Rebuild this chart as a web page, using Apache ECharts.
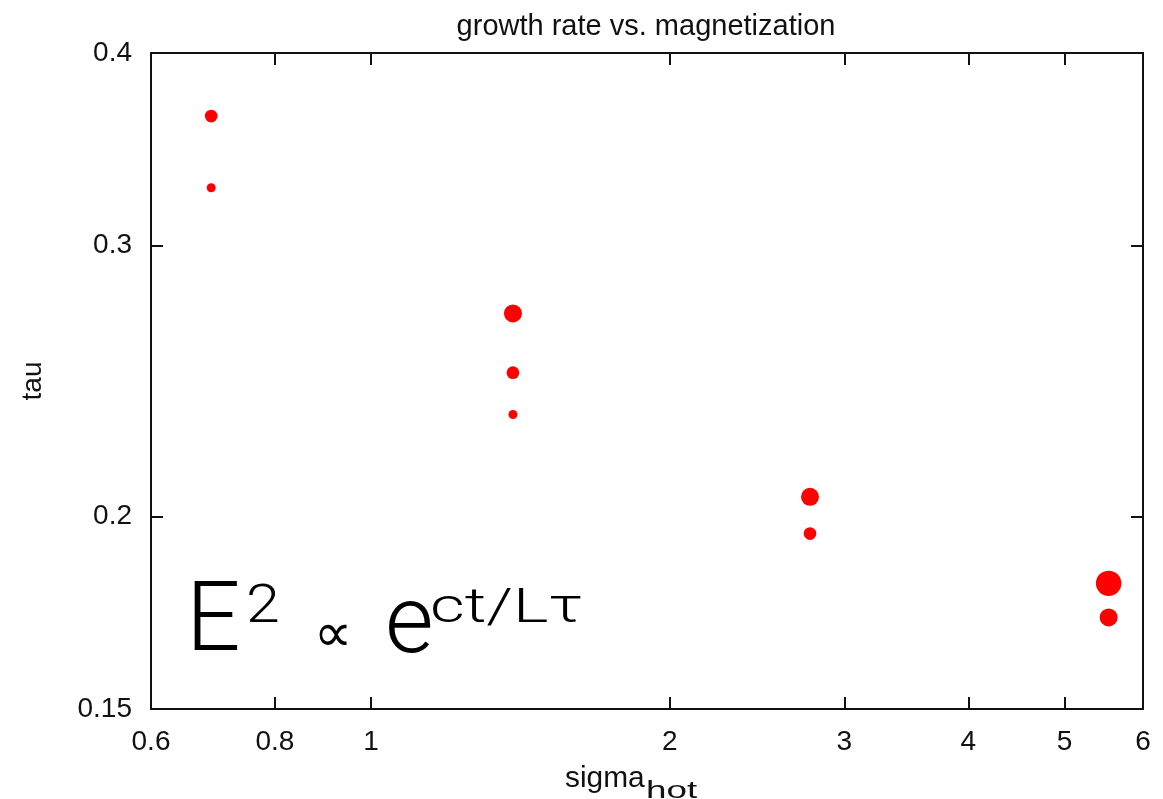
<!DOCTYPE html>
<html><head><meta charset="utf-8">
<script src="https://cdn.jsdelivr.net/npm/echarts@6/dist/echarts.min.js"></script>
<style>html,body{margin:0;padding:0;background:#fff}#c{width:1163px;height:799px}</style>
</head><body><div id="c"></div>
<script>
// ---- data ----
const sigmaHot = [0.69, 0.69, 1.39, 1.39, 1.39, 2.77, 2.77, 5.54, 5.54];
const tau      = [0.364, 0.327, 0.271, 0.248, 0.233, 0.206, 0.195, 0.181, 0.172];
const sizeClass = [1, 0, 2, 1, 0, 2, 1, 3, 2];
const xTicks = [0.6, 0.8, 1, 2, 3, 4, 5, 6];
const yTicks = [0.15, 0.2, 0.3, 0.4];
const titleText = 'growth rate vs. magnetization';
const xName = 'sigma', xSub = 'hot';
const yName = 'tau';

const FONT = '"Liberation Sans", Arial, Helvetica, sans-serif';
const LIGHT = 'Roboto, "Liberation Sans", Arial, sans-serif';
const INK = '#111';

function axisCommon(ticks, showLabel, extra) {
  return Object.assign({
    type: 'log', logBase: 10,
    axisLine: { show: true, onZero: false, lineStyle: { color: INK, width: 2 } },
    axisTick: { show: true, inside: true, length: 12, customValues: ticks, lineStyle: { color: INK, width: 2 } },
    minorTick: { show: false },
    splitLine: { show: false },
    axisLabel: {
      show: showLabel, customValues: ticks, fontSize: 28, color: INK, fontFamily: FONT, margin: 19,
      formatter: v => String(+(+v).toPrecision(6))
    }
  }, extra);
}

const chart = echarts.init(document.getElementById('c'), null, { renderer: 'canvas' });
const option = {
  backgroundColor: '#fff',
  animation: false,
  title: {
    text: titleText, left: 641, top: 7, textAlign: 'center',
    textStyle: { fontSize: 29, fontWeight: 'normal', color: INK, fontFamily: FONT }
  },
  grid: { left: 151, right: 20, top: 53, bottom: 90, containLabel: false, outerBoundsMode: 'none' },
  xAxis: [
    axisCommon(xTicks, true, { min: 0.6, max: 6, position: 'bottom' }),
    axisCommon(xTicks, false, { min: 0.6, max: 6, position: 'top' })
  ],
  yAxis: [
    axisCommon(yTicks, true, {
      min: 0.15, max: 0.4, position: 'left',
      name: yName, nameLocation: 'middle', nameRotate: 90, nameGap: 104,
      nameTextStyle: { fontSize: 28, color: INK, fontFamily: FONT }
    }),
    axisCommon(yTicks, false, { min: 0.15, max: 0.4, position: 'right' })
  ],
  series: [{
    type: 'scatter',
    xAxisIndex: 0, yAxisIndex: 0,
    data: sigmaHot.map((x, i) => [x, tau[i], sizeClass[i]]),
    symbol: 'circle',
    symbolSize: v => 9 * Math.pow(Math.SQRT2, v[2]),
    itemStyle: { color: '#ff0000', opacity: 1 }
  }],
  graphic: [
    { type: 'text', x: 565, y: 779, scaleX: 1.03, style: { text: xName, fontSize: 29, fontFamily: FONT, fill: INK, align: 'left', verticalAlign: 'middle' } },
    { type: 'text', x: 646, y: 792, scaleX: 1.6, style: { text: xSub, fontSize: 23, fontFamily: FONT, fill: INK, align: 'left', verticalAlign: 'middle' } },
    // formula
    { type: 'text', x: 186, y: 626, style: { text: 'E', fontSize: 96, fontWeight: 300, fontFamily: LIGHT, fill: '#000', align: 'left', verticalAlign: 'middle' } },
    { type: 'text', x: 246, y: 609, scaleX: 1.15, style: { text: '2', fontSize: 53, fontWeight: 300, fontFamily: LIGHT, fill: '#000', align: 'left', verticalAlign: 'middle' } },
    { type: 'text', x: 333, y: 637, style: { text: '\u221D', fontSize: 54, fontFamily: '"DejaVu Sans", sans-serif', fill: '#000', align: 'center', verticalAlign: 'middle' } },
    { type: 'text', x: 385, y: 628, style: { text: 'e', fontSize: 94, fontWeight: 300, fontFamily: LIGHT, fill: '#000', align: 'left', verticalAlign: 'middle' } },
    { type: 'text', x: 430, y: 610, scaleX: 1.4, style: { text: 'ct/L\u03C4', fontSize: 48, fontWeight: 300, fontFamily: LIGHT, fill: '#000', align: 'left', verticalAlign: 'middle' } }
  ]
};
chart.setOption(option);
</script>
</body></html>
